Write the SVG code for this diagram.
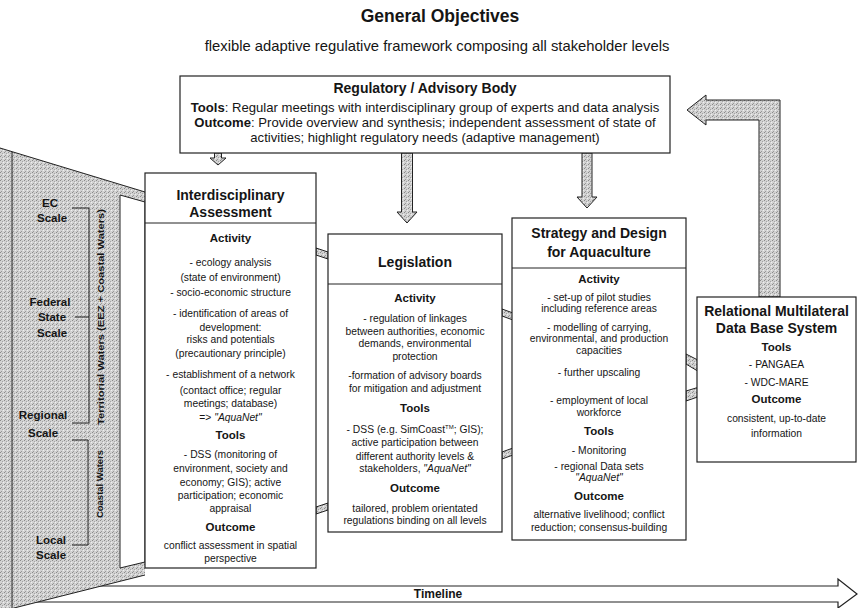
<svg xmlns="http://www.w3.org/2000/svg" width="859" height="608" viewBox="0 0 859 608">
<defs>
<pattern id="st" width="4" height="4" patternUnits="userSpaceOnUse">
<rect width="4" height="4" fill="#d2d2d2"/>
<rect x="0" y="0" width="1" height="1" fill="#8a8a8a"/>
<rect x="2" y="1" width="1" height="1" fill="#a4a4a4"/>
<rect x="1" y="3" width="1" height="1" fill="#9a9a9a"/>
<rect x="3" y="2" width="1" height="1" fill="#efefef"/>
</pattern>
<style>
text{font-family:"Liberation Sans",Arial,Helvetica,sans-serif;fill:#151515;text-anchor:middle}
.h{font-size:14px;font-weight:bold}
.k{font-size:11.5px;font-weight:bold}
.s{font-size:10.3px}
.r{font-size:13.1px}
.box{fill:#fff;stroke:#222;stroke-width:1.2}
.stp{fill:url(#st);stroke:#222;stroke-width:1}
.ln{stroke:#222;stroke-width:1;fill:none}
.lab{font-size:11.5px;font-weight:bold}
</style>
</defs>
<rect width="859" height="608" fill="#fff"/>

<text x="440" y="22" style="font-size:17.5px;font-weight:bold">General Objectives</text>
<text x="437" y="51" style="font-size:14.8px">flexible adaptive regulative framework composing all stakeholder levels</text>

<!-- timeline -->
<g id="timeline">
<polygon points="20,586 838,586 838,579 857,594 838,608 838,602 20,602" fill="#fff" stroke="#222" stroke-width="1.2"/>
<text x="438" y="598" style="font-size:12px;font-weight:bold">Timeline</text>
</g>

<!-- left scale panel -->
<g id="scale-panel">
<polygon points="0,148 145,192 145,575 14,608 0,608" fill="url(#st)"/>
<line class="ln" x1="0" y1="148" x2="145" y2="192"/>
<line class="ln" x1="145" y1="575" x2="14" y2="608"/>
<line class="ln" x1="12" y1="152" x2="12" y2="608"/>
<polygon points="120,195 145,202 145,562 120,568" fill="#fff" stroke="#222" stroke-width="1"/>
<text class="lab" x="50" y="207">EC</text>
<text class="lab" x="52" y="222">Scale</text>
<text class="lab" x="50" y="306">Federal</text>
<text class="lab" x="52" y="321">State</text>
<text class="lab" x="52" y="337">Scale</text>
<text class="lab" x="43" y="419">Regional</text>
<text class="lab" x="43" y="437">Scale</text>
<text class="lab" x="51" y="544">Local</text>
<text class="lab" x="51" y="559">Scale</text>
<polyline class="ln" points="72,208 89,208 89,423 72,423"/>
<line class="ln" x1="75" y1="317" x2="89" y2="317"/>
<polyline class="ln" points="72,440 88,440 88,545 72,545"/>
<text transform="translate(104,317) rotate(-90)" style="font-size:9.5px;font-weight:bold" textLength="216" lengthAdjust="spacingAndGlyphs">Territorial Waters (EEZ + Coastal Waters)</text>
<text transform="translate(103,484) rotate(-90)" style="font-size:9.5px;font-weight:bold" textLength="68" lengthAdjust="spacingAndGlyphs">Coastal Waters</text>
</g>

<!-- connectors -->
<g id="connectors">
<polygon class="stp" points="214.5,153 221.5,153 221.5,158 226,158 218,165 210,158 214.5,158"/>
<polygon class="stp" points="401.5,153 412.5,153 412.5,212 417,212 407,223 397,212 401.5,212"/>
<polygon class="stp" points="582,153 592,153 592,197 597,197 587,208 577,197 582,197"/>
<polygon class="stp" points="780,297 780,100 706,100 706,95 687,110 706,125 706,120 759,120 759,297"/>
<polygon class="stp" points="686,354 741,382 686,401 686,391 716,382 686,364"/>
<polygon class="stp" points="316,248 328,252 328,259 316,255"/>
<polygon class="stp" points="502,309 513,313 513,320 502,316"/>
<polygon class="stp" points="316,507 328,503 328,510 316,514"/>
<polygon class="stp" points="502,452 513,448 513,455 502,459"/>
</g>

<!-- regulatory body -->
<g id="regulatory">
<rect class="box" x="180" y="76" width="490" height="77"/>
<text x="425" y="93" style="font-size:14px;font-weight:bold">Regulatory / Advisory Body</text>
<text class="r" x="425" y="112"><tspan font-weight="bold">Tools</tspan>: Regular meetings with interdisciplinary group of experts and data analysis</text>
<text class="r" x="425" y="127"><tspan font-weight="bold">Outcome</tspan>: Provide overview and synthesis; independent assessment of state of</text>
<text class="r" x="425" y="142">activities; highlight regulatory needs (adaptive management)</text>
</g>

<!-- interdisciplinary assessment -->
<g id="assessment">
<rect class="box" x="145" y="173" width="171" height="395"/>
<line class="ln" x1="145" y1="223" x2="316" y2="223"/>
<text class="h" x="230.5" y="200">Interdisciplinary</text>
<text class="h" x="230.5" y="217">Assessment</text>
<text class="k" x="230.5" y="242">Activity</text>
<text class="s" x="230.5" y="266">- ecology analysis</text>
<text class="s" x="230.5" y="281">(state of environment)</text>
<text class="s" x="230.5" y="296">- socio-economic structure</text>
<text class="s" x="230.5" y="317">- identification of areas of</text>
<text class="s" x="230.5" y="331">development:</text>
<text class="s" x="230.5" y="343">risks and potentials</text>
<text class="s" x="230.5" y="357">(precautionary principle)</text>
<text class="s" x="230.5" y="378">- establishment of a network</text>
<text class="s" x="230.5" y="394">(contact office; regular</text>
<text class="s" x="230.5" y="407">meetings; database)</text>
<text class="s" x="230.5" y="421">=&gt;  <tspan font-style="italic">"AquaNet"</tspan></text>
<text class="k" x="230.5" y="439">Tools</text>
<text class="s" x="230.5" y="458">- DSS (monitoring of</text>
<text class="s" x="230.5" y="472">environment, society and</text>
<text class="s" x="230.5" y="486">economy; GIS); active</text>
<text class="s" x="230.5" y="499">participation; economic</text>
<text class="s" x="230.5" y="512">appraisal</text>
<text class="k" x="230.5" y="531">Outcome</text>
<text class="s" x="230.5" y="549">conflict assessment in spatial</text>
<text class="s" x="230.5" y="562">perspective</text>
</g>

<!-- legislation -->
<g id="legislation">
<rect class="box" x="328" y="234" width="174" height="298"/>
<line class="ln" x1="328" y1="284" x2="502" y2="284"/>
<text class="h" x="415" y="267">Legislation</text>
<text class="k" x="415" y="302">Activity</text>
<text class="s" x="415" y="322">- regulation of linkages</text>
<text class="s" x="415" y="335">between authorities, economic</text>
<text class="s" x="415" y="347">demands, environmental</text>
<text class="s" x="415" y="360">protection</text>
<text class="s" x="415" y="379">-formation of advisory boards</text>
<text class="s" x="415" y="392">for mitigation and adjustment</text>
<text class="k" x="415" y="412">Tools</text>
<text class="s" x="415" y="433">- DSS (e.g. SimCoast<tspan font-size="6" dy="-4">TM</tspan><tspan dy="4">; GIS);</tspan></text>
<text class="s" x="415" y="446">active participation between</text>
<text class="s" x="415" y="460">different authority levels &amp;</text>
<text class="s" x="415" y="472">stakeholders, <tspan font-style="italic">"AquaNet"</tspan></text>
<text class="k" x="415" y="492">Outcome</text>
<text class="s" x="415" y="512">tailored, problem orientated</text>
<text class="s" x="415" y="524">regulations binding on all levels</text>
</g>

<!-- strategy -->
<g id="strategy">
<rect class="box" x="512" y="218" width="174" height="322"/>
<line class="ln" x1="512" y1="268" x2="686" y2="268"/>
<text class="h" x="599" y="238">Strategy and Design</text>
<text class="h" x="599" y="257">for Aquaculture</text>
<text class="k" x="599" y="283">Activity</text>
<text class="s" x="599" y="301">- set-up of pilot studies</text>
<text class="s" x="599" y="312">including reference areas</text>
<text class="s" x="599" y="331">- modelling of carrying,</text>
<text class="s" x="599" y="342">environmental, and production</text>
<text class="s" x="599" y="354">capacities</text>
<text class="s" x="599" y="376">- further upscaling</text>
<text class="s" x="599" y="404">- employment of local</text>
<text class="s" x="599" y="416">workforce</text>
<text class="k" x="599" y="435">Tools</text>
<text class="s" x="599" y="454">- Monitoring</text>
<text class="s" x="599" y="470">- regional Data sets</text>
<text class="s" x="599" y="481"><tspan font-style="italic">"AquaNet"</tspan></text>
<text class="k" x="599" y="500">Outcome</text>
<text class="s" x="599" y="518">alternative livelihood; conflict</text>
<text class="s" x="599" y="531">reduction; consensus-building</text>
</g>

<!-- relational database -->
<g id="database">
<rect class="box" x="697" y="297" width="159" height="165"/>
<text class="h" x="776.5" y="316">Relational Multilateral</text>
<text class="h" x="776.5" y="333">Data Base System</text>
<text class="k" x="776.5" y="351">Tools</text>
<text class="s" x="776.5" y="368">- PANGAEA</text>
<text class="s" x="776.5" y="386">- WDC-MARE</text>
<text class="k" x="776.5" y="403">Outcome</text>
<text class="s" x="776.5" y="422">consistent, up-to-date</text>
<text class="s" x="776.5" y="437">information</text>
</g>
</svg>
